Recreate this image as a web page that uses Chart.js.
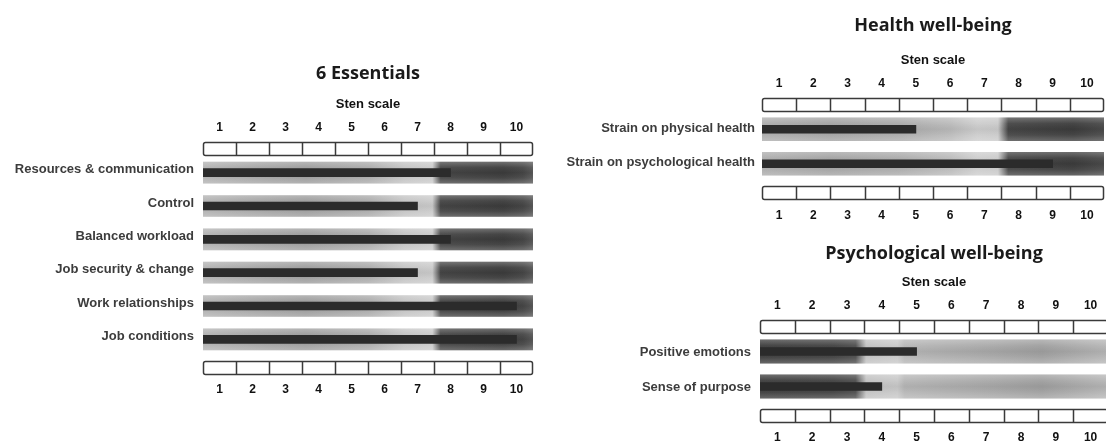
<!DOCTYPE html>
<html>
<head>
<meta charset="utf-8">
<script src="https://cdn.jsdelivr.net/npm/chart.js@4.4.1/dist/chart.umd.min.js"></script>
<style>
  html, body { margin: 0; padding: 0; background: #fff; overflow: hidden; width: 1106px; height: 448px; }
  body { position: relative; }
  canvas { position: absolute; }
</style>
</head>
<body>
<canvas id="essentials" width="550" height="448" style="left:0px;top:0px"></canvas>
<canvas id="health" width="560" height="232" style="left:550px;top:0px"></canvas>
<canvas id="psych" width="560" height="216" style="left:550px;top:232px"></canvas>
<script>
// sten scale
const stenTicks = [1, 2, 3, 4, 5, 6, 7, 8, 9, 10];
const stenMin = 0.5, stenMax = 10.5;

// 6 Essentials
const essentialsRows = ['Resources & communication', 'Control', 'Balanced workload',
  'Job security & change', 'Work relationships', 'Job conditions'];
const essentialsScores = [8, 7, 8, 7, 10, 10];

// Health well-being
const healthRows = ['Strain on physical health', 'Strain on psychological health'];
const healthScores = [5, 9];

// Psychological well-being
const psychRows = ['Positive emotions', 'Sense of purpose'];
const psychScores = [5, 4];

// background shading of the bands, [sten value, colour]
const essentialsShade = [[0.5, '#b2b2b2'], [2.0, '#a6a6a6'], [3.6, '#9c9c9c'], [5.5, '#aaaaaa'],
  [6.6, '#c4c4c4'], [7.45, '#cbcbcb'], [7.7, '#454545'], [9.6, '#3c3c3c'], [10.2, '#464646'], [10.5, '#585858']];
const healthShade = [[0.5, '#acacac'], [2.5, '#a2a2a2'], [4.5, '#aaaaaa'], [6.0, '#bababa'],
  [6.8, '#cdcdcd'], [7.4, '#cacaca'], [7.7, '#454545'], [9.6, '#3c3c3c'], [10.5, '#4a4a4a']];
const psychShade = [[0.5, '#3c3c3c'], [2.6, '#404040'], [3.25, '#4c4c4c'], [3.55, '#c2c2c2'],
  [4.45, '#c8c8c8'], [4.65, '#b6b6b6'], [7.0, '#a9a9a9'], [8.6, '#9f9f9f'], [10.5, '#b6b6b6']];

const labelFont = "'Liberation Sans', Arial, sans-serif";

Chart.defaults.animation = false;
Chart.defaults.plugins.legend.display = false;
Chart.defaults.plugins.tooltip.enabled = false;
Chart.defaults.color = '#111';

function bandFill(stops) {
  return function (ctx) {
    const chart = ctx.chart;
    if (!chart.chartArea) return stops[0][1];
    const x = chart.scales.x;
    const g = chart.ctx.createLinearGradient(x.getPixelForValue(stenMin), 0, x.getPixelForValue(stenMax), 0);
    stops.forEach(s => g.addColorStop((s[0] - stenMin) / (stenMax - stenMin), s[1]));
    return g;
  };
}

function bandSheen(thickness) {
  return function (ctx) {
    const chart = ctx.chart;
    if (!chart.chartArea) return 'rgba(0,0,0,0)';
    const yc = chart.scales.y.getPixelForValue(ctx.dataIndex);
    const g = chart.ctx.createLinearGradient(0, yc - thickness / 2, 0, yc + thickness / 2);
    g.addColorStop(0, 'rgba(255,255,255,0.25)');
    g.addColorStop(0.25, 'rgba(255,255,255,0.05)');
    g.addColorStop(0.5, 'rgba(0,0,0,0.04)');
    g.addColorStop(0.75, 'rgba(255,255,255,0.05)');
    g.addColorStop(1, 'rgba(255,255,255,0.22)');
    return g;
  };
}

// the boxed sten strip above and below the bars
const stenStrip = {
  id: 'stenStrip',
  afterDatasetsDraw(chart) {
    const { ctx, chartArea: a, scales: { x } } = chart;
    const x0 = x.getPixelForValue(stenMin), x1 = x.getPixelForValue(stenMax);
    [a.top - 14, a.bottom + 5].forEach(y => {
      ctx.save();
      ctx.fillStyle = '#fff';
      ctx.strokeStyle = '#3a3a3a';
      ctx.lineWidth = 1.5;
      ctx.beginPath();
      ctx.roundRect(x0 + 0.5, y + 0.5, x1 - x0 - 1, 13, 2);
      ctx.fill();
      ctx.stroke();
      ctx.beginPath();
      stenTicks.slice(0, -1).forEach(t => {
        const px = Math.round(x.getPixelForValue(t + 0.5)) + 0.5;
        ctx.moveTo(px, y + 0.5);
        ctx.lineTo(px, y + 13.5);
      });
      ctx.stroke();
      ctx.restore();
    });
  }
};

function makePanel(id, rows, scores, shade, geo) {
  const titleSize = 18, stenSize = 13, tickSize = 12;
  const top = geo.area.top - geo.cy, bottom = geo.area.bottom - geo.cy;
  const titleTop = geo.titleY - geo.cy - titleSize * 0.6;
  const titleBottom = geo.titleY - geo.cy + titleSize * 0.6;
  const bottomAxisH = 40;
  const tickFont = { family: labelFont, size: tickSize, weight: 'bold' };
  const afterTicks = s => { s.ticks = stenTicks.map(v => ({ value: v })); };
  const noPad = s => { s.paddingLeft = 0; s.paddingRight = 0; };

  return new Chart(document.getElementById(id), {
    type: 'bar',
    data: {
      labels: rows,
      datasets: [
        { label: 'Sten', data: scores.map(v => [stenMin, v]), backgroundColor: '#2b2b2b',
          barThickness: geo.bar, grouped: false, order: 0 },
        { label: 'sheen', data: rows.map(() => [stenMin, stenMax]), backgroundColor: bandSheen(geo.band),
          barThickness: geo.band, grouped: false, order: 1 },
        { label: 'band', data: rows.map(() => [stenMin, stenMax]), backgroundColor: bandFill(shade),
          barThickness: geo.band, grouped: false, order: 2 }
      ]
    },
    options: {
      responsive: false,
      indexAxis: 'y',
      layout: {
        padding: {
          left: 0,
          right: geo.cw - (geo.area.right - geo.cx),
          top: 0,
          bottom: geo.ch - bottom - bottomAxisH
        }
      },
      plugins: {
        title: {
          display: true, text: geo.title, fullSize: false, color: '#1a1a1a',
          font: { family: "'Open Sans', sans-serif", size: titleSize, weight: 'bold', lineHeight: 1.2 },
          padding: { top: titleTop, bottom: 0 }
        }
      },
      scales: {
        x: {
          position: 'top', min: stenMin, max: stenMax,
          afterBuildTicks: afterTicks,
          afterFit: s => { s.height = top - titleBottom; noPad(s); },
          grid: { display: false, drawTicks: false, tickLength: 0 },
          border: { display: false },
          ticks: { font: tickFont, color: '#111', padding: top - (geo.tickTopY - geo.cy) - tickSize * 0.6, maxRotation: 0 },
          title: {
            display: true, text: 'Sten scale', color: '#111',
            font: { family: labelFont, size: stenSize, weight: 'bold', lineHeight: 1.2 },
            padding: { top: geo.stenY - geo.cy - titleBottom - stenSize * 0.6, bottom: 0 }
          }
        },
        x2: {
          position: 'bottom', min: stenMin, max: stenMax,
          afterBuildTicks: afterTicks,
          afterFit: s => { s.height = bottomAxisH; noPad(s); },
          grid: { display: false, drawTicks: false, tickLength: 0 },
          border: { display: false },
          ticks: { font: tickFont, color: '#111', padding: geo.tickBottomY - geo.area.bottom - tickSize * 0.6, maxRotation: 0 }
        },
        y: {
          afterFit: s => { s.width = geo.area.left - geo.cx; },
          grid: { display: false, drawTicks: false, tickLength: 0 },
          border: { display: false },
          ticks: { font: { family: labelFont, size: 13, weight: 'bold' }, color: '#3c3c3c',
            padding: geo.labelPad, labelOffset: geo.labelShift }
        }
      }
    },
    plugins: [stenStrip]
  });
}

makePanel('essentials', essentialsRows, essentialsScores, essentialsShade, {
  title: '6 Essentials', cx: 0, cy: 0, cw: 550, ch: 448,
  area: { left: 203, right: 533, top: 156, bottom: 356 },
  titleY: 74, stenY: 104, tickTopY: 128, tickBottomY: 390, band: 21, bar: 8, labelPad: 9, labelShift: -3
});
makePanel('health', healthRows, healthScores, healthShade, {
  title: 'Health well-being', cx: 550, cy: 0, cw: 560, ch: 232,
  area: { left: 762, right: 1104, top: 112, bottom: 181 },
  titleY: 26, stenY: 60, tickTopY: 84, tickBottomY: 216, band: 23, bar: 8, labelPad: 7, labelShift: -1
});
makePanel('psych', psychRows, psychScores, psychShade, {
  title: 'Psychological well-being', cx: 550, cy: 232, cw: 560, ch: 216,
  area: { left: 760, right: 1108, top: 334, bottom: 404 },
  titleY: 254, stenY: 282, tickTopY: 306, tickBottomY: 438, band: 23.5, bar: 8, labelPad: 9, labelShift: 1
});
</script>
</body>
</html>
